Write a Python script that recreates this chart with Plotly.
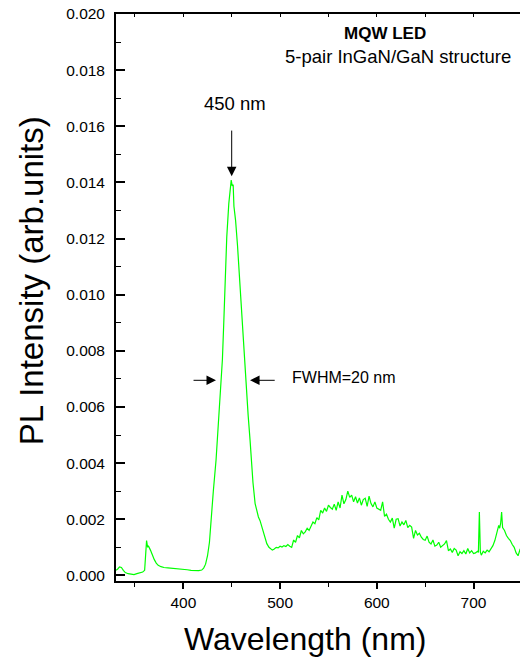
import plotly.graph_objects as go

# PL spectrum of the 5-pair InGaN/GaN MQW LED (wavelength in nm, intensity in arb. units)
WAVELENGTH_NM = [
    330, 332, 334, 336, 338, 340, 343, 346, 349, 352, 355, 358, 360, 361, 362, 363,
    364, 366, 368, 370, 372, 374, 377, 380, 384, 388, 392, 396, 400, 404, 408, 412,
    416, 419, 421, 423, 425, 427, 428.6, 431, 433.8, 436.2, 438, 439.7, 440.4, 441.8,
    443.1, 444.9, 447, 448.5, 449.5, 450.5, 451.5, 452.3, 454, 456, 457, 458.7, 460,
    461, 462.5, 463.8, 465, 467, 469, 470.7, 472, 474.2, 476, 477.6, 479.3, 481,
    482.8, 484.5, 486.3, 488.5, 491,
    492, 494, 496, 498, 500, 502, 504, 506, 508, 510, 512, 514, 516, 518, 520, 522,
    524, 526, 528, 530, 532, 534, 536, 538, 540, 542, 544, 546, 548, 550, 552, 554,
    556, 558, 560, 562, 564, 566, 568, 570, 572, 574, 576, 578, 580, 582, 584, 586,
    588, 590, 592, 594, 596, 598, 600, 602, 604, 606, 608, 610, 612, 614, 616, 618,
    620, 622, 624, 626, 628, 630, 632, 634, 636, 638, 640, 642, 644, 646, 648, 650,
    652, 654, 656, 658, 660, 662, 664, 666, 668, 670, 672, 674, 676, 678, 680, 682,
    684, 686, 688, 690, 692, 694, 696, 698, 700, 702, 704, 705, 706, 707, 708, 710,
    712, 714, 716, 718, 720, 722, 724, 726, 727, 728, 729, 730, 732, 734, 736, 738,
    740, 742, 744, 746, 748, 750,
]
PL_INTENSITY = [
    0.00018, 0.00022, 0.00030, 0.00028, 0.00018, 0.00010, 0.00006, 0.00004, 0.00003,
    0.00006, 0.00008, 0.00012, 0.00018, 0.00060, 0.00124, 0.00102, 0.00104, 0.00090,
    0.00072, 0.00056, 0.00044, 0.00036, 0.00031, 0.00028, 0.00027, 0.00026, 0.00025,
    0.00024, 0.00022, 0.00020, 0.00018, 0.00017, 0.00017, 0.00019, 0.00026, 0.00040,
    0.00070, 0.00118, 0.00196, 0.00300, 0.00410, 0.00530, 0.00620, 0.00710, 0.00770,
    0.00900, 0.01028, 0.01206, 0.01325, 0.01395, 0.01408, 0.01388, 0.01392, 0.01315,
    0.01265, 0.01175, 0.01120, 0.01030, 0.00960, 0.00890, 0.00800, 0.00715, 0.00650,
    0.00570, 0.00480, 0.00374, 0.00330, 0.00256, 0.00230, 0.00208, 0.00195, 0.00175,
    0.00154, 0.00135, 0.00113, 0.00100, 0.00091,
    0.00090, 0.00094, 0.00100, 0.00098, 0.00104, 0.00101, 0.00106, 0.00103, 0.00110,
    0.00104, 0.00100, 0.00126, 0.00118, 0.00142, 0.00134, 0.00160, 0.00148, 0.00155,
    0.00168, 0.00160, 0.00178, 0.00190, 0.00184, 0.00206, 0.00198, 0.00232, 0.00222,
    0.00240, 0.00228, 0.00250, 0.00242, 0.00236, 0.00254, 0.00232, 0.00262, 0.00240,
    0.00286, 0.00255, 0.00270, 0.00300, 0.00278, 0.00286, 0.00262, 0.00280, 0.00258,
    0.00276, 0.00250, 0.00270, 0.00275, 0.00246, 0.00282, 0.00256, 0.00244, 0.00262,
    0.00240, 0.00236, 0.00232, 0.00262, 0.00210, 0.00218, 0.00200, 0.00190, 0.00204,
    0.00168, 0.00200, 0.00202, 0.00176, 0.00190, 0.00180, 0.00196, 0.00170, 0.00178,
    0.00172, 0.00132, 0.00160, 0.00144, 0.00150, 0.00136, 0.00128, 0.00125, 0.00140,
    0.00118, 0.00112, 0.00126, 0.00104, 0.00108, 0.00118, 0.00100, 0.00106, 0.00112,
    0.00124, 0.00088, 0.00094, 0.00082, 0.00096, 0.00090, 0.00070, 0.00084, 0.00078,
    0.00088, 0.00076, 0.00096, 0.00080, 0.00088, 0.00078, 0.00080, 0.00086, 0.00082,
    0.00226, 0.00084, 0.00072, 0.00086, 0.00080, 0.00090, 0.00084, 0.00094, 0.00106,
    0.00124, 0.00150, 0.00178, 0.00168, 0.00186, 0.00226, 0.00170, 0.00160, 0.00142,
    0.00132, 0.00124, 0.00110, 0.00100, 0.00080, 0.00070, 0.00092, 0.00086,
]

X_RANGE = [330.4, 748]
Y_RANGE = [-0.0002, 0.020]
X_TICKS = [400, 500, 600, 700]
Y_TICKS = [0.000, 0.002, 0.004, 0.006, 0.008, 0.010, 0.012, 0.014, 0.016, 0.018, 0.020]

PEAK_NM = 450
FWHM_LEVEL = 0.00695

FONT = "Liberation Sans, Arial, Helvetica, sans-serif"
GREEN = "#00ff00"

fig = go.Figure()
fig.add_trace(go.Scatter(
    x=WAVELENGTH_NM, y=PL_INTENSITY, mode="lines",
    line=dict(color=GREEN, width=1.2), showlegend=False, hoverinfo="skip",
))
# empty trace so the top frame axis is drawn
fig.add_trace(go.Scatter(x=[], y=[], xaxis="x2", yaxis="y", showlegend=False))

axis_common = dict(showgrid=False, zeroline=False, showline=True,
                   linecolor="black", linewidth=1.8)

fig.update_layout(
    width=520, height=658,
    margin=dict(l=116, r=0, t=14, b=77),
    paper_bgcolor="white", plot_bgcolor="white",
    font=dict(family=FONT, color="black"),
    xaxis=dict(
        **axis_common, range=X_RANGE, tickvals=X_TICKS,
        ticks="outside", ticklen=6, tickwidth=1.5, tickcolor="black",
        tickfont=dict(size=15.5, family=FONT, color="black"),
        minor=dict(ticks="outside", ticklen=4, tickwidth=1.3, tickcolor="black",
                   tickvals=[350, 450, 550, 650]),
    ),
    xaxis2=dict(
        **axis_common, range=X_RANGE, overlaying="x", side="top", anchor="y",
        ticks="inside", ticklen=3, tickwidth=1, tickcolor="black",
        tickvals=[350, 400, 450, 500, 550, 600, 650, 700],
        showticklabels=False,
    ),
    yaxis=dict(
        **axis_common, range=Y_RANGE, tickvals=Y_TICKS, tickformat=".3f",
        ticks="inside", ticklen=9, tickwidth=1.5, tickcolor="black",
        ticklabelstandoff=6,
        tickfont=dict(size=15.5, family=FONT, color="black"),
        minor=dict(ticks="inside", ticklen=5, tickwidth=1.3, tickcolor="black",
                   dtick=0.001),
    ),
)

arrow_style = dict(showarrow=True, arrowhead=2, arrowsize=1.9, arrowwidth=1,
                   arrowcolor="black", text="", xref="x", yref="y",
                   axref="x", ayref="y")

annotations = [
    # axis titles
    dict(text="Wavelength (nm)", xref="paper", yref="paper", x=0.468, y=-0.1029,
         xanchor="center", yanchor="middle", showarrow=False,
         font=dict(size=32, family=FONT, color="black")),
    dict(text="PL Intensity (arb.units)", xref="paper", yref="paper", x=-0.2104,
         y=0.5306, xanchor="center", yanchor="middle", textangle=-90,
         showarrow=False, font=dict(size=33, family=FONT, color="black")),
    # sample description
    dict(text="<b>MQW LED</b>", xref="x", yref="y", x=608, y=0.01932,
         xanchor="center", yanchor="middle", showarrow=False,
         font=dict(size=17, family=FONT, color="black")),
    dict(text="5-pair InGaN/GaN structure", xref="x", yref="y", x=741, y=0.01847,
         xanchor="right", yanchor="middle", showarrow=False,
         font=dict(size=18.5, family=FONT, color="black")),
    # peak label and arrow
    dict(text="450 nm", xref="x", yref="y", x=453.5, y=0.01680,
         xanchor="center", yanchor="middle", showarrow=False,
         font=dict(size=18.5, family=FONT, color="black")),
    dict(**arrow_style, x=PEAK_NM, y=0.01422, ax=PEAK_NM, ay=0.0159),
    # FWHM markers
    dict(**arrow_style, x=433.8, y=FWHM_LEVEL, ax=409, ay=FWHM_LEVEL),
    dict(**arrow_style, x=469, y=FWHM_LEVEL, ax=496, ay=FWHM_LEVEL),
    dict(text="FWHM=20 nm", xref="x", yref="y", x=510.4, y=0.00705,
         xanchor="left", yanchor="middle", showarrow=False,
         font=dict(size=16, family=FONT, color="black")),
]
fig.update_layout(annotations=annotations)

fig.write_html("out.html")
